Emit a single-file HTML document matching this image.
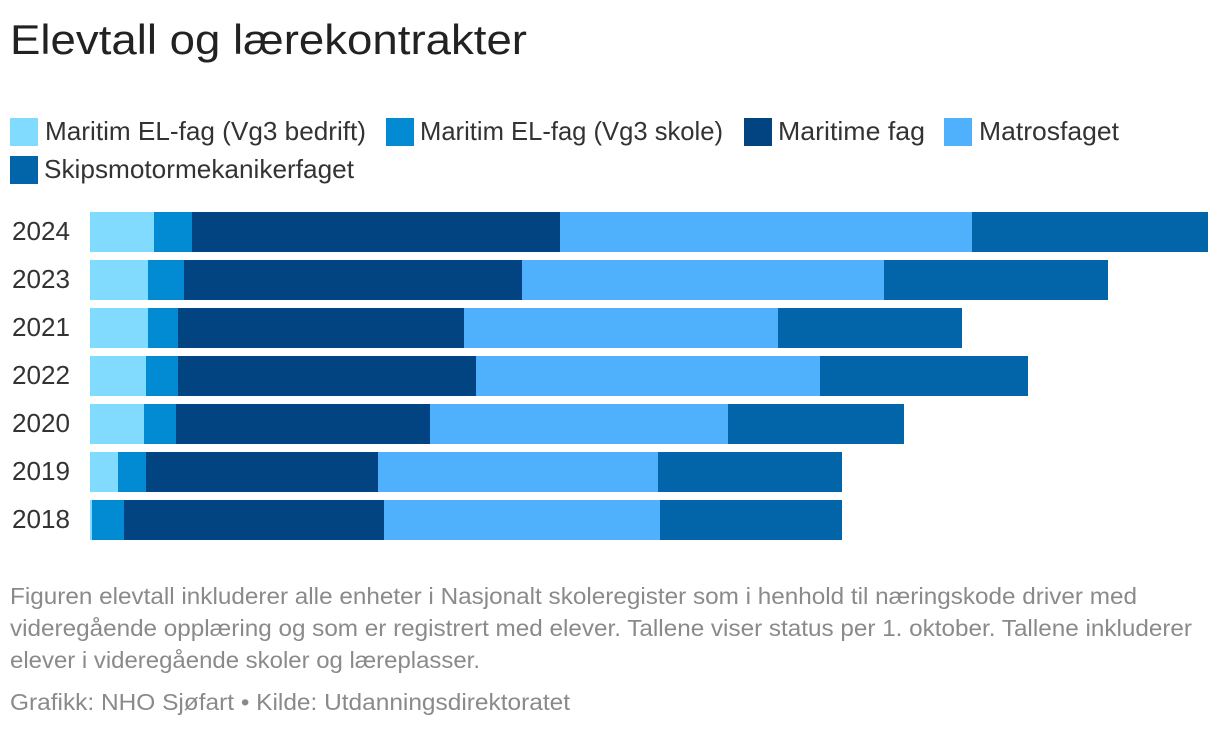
<!DOCTYPE html>
<html lang="no">
<head>
<meta charset="utf-8">
<title>Elevtall og lærekontrakter</title>
<style>
html,body{margin:0;padding:0;background:#fff;width:1220px;height:730px;overflow:hidden}
svg{display:block}
text{font-family:"Liberation Sans",sans-serif}
.title{font-size:42px;fill:#222}
.leg{font-size:26px;fill:#333}
.cat{font-size:26px;fill:#333}
.note{font-size:23.5px;fill:#8a8a8a}
</style>
</head>
<body>
<svg id="chart" width="1220" height="730" viewBox="0 0 1220 730" xmlns="http://www.w3.org/2000/svg">
  <text class="title" x="10" y="54" textLength="517" lengthAdjust="spacingAndGlyphs">Elevtall og lærekontrakter</text>

  <g>
    <g>
      <rect x="10" y="118" width="28" height="28" fill="#80dbff"/>
      <text class="leg" x="45" y="140" textLength="321" lengthAdjust="spacingAndGlyphs">Maritim EL-fag (Vg3 bedrift)</text>
    </g>
    <g>
      <rect x="386" y="118" width="28" height="28" fill="#028bd2"/>
      <text class="leg" x="420" y="140" textLength="303" lengthAdjust="spacingAndGlyphs">Maritim EL-fag (Vg3 skole)</text>
    </g>
    <g>
      <rect x="744" y="118" width="28" height="28" fill="#014481"/>
      <text class="leg" x="778" y="140" textLength="147" lengthAdjust="spacingAndGlyphs">Maritime fag</text>
    </g>
    <g>
      <rect x="944" y="118" width="28" height="28" fill="#4fb1fb"/>
      <text class="leg" x="979" y="140" textLength="140" lengthAdjust="spacingAndGlyphs">Matrosfaget</text>
    </g>
    <g>
      <rect x="10" y="156" width="28" height="28" fill="#0265a9"/>
      <text class="leg" x="44" y="178" textLength="310" lengthAdjust="spacingAndGlyphs">Skipsmotormekanikerfaget</text>
    </g>
  </g>

  <g id="plot"></g>

  <g>
    <text class="note" x="10" y="604" textLength="1127" lengthAdjust="spacingAndGlyphs">Figuren elevtall inkluderer alle enheter i Nasjonalt skoleregister som i henhold til næringskode driver med</text>
    <text class="note" x="10" y="636" textLength="1182" lengthAdjust="spacingAndGlyphs">videregående opplæring og som er registrert med elever. Tallene viser status per 1. oktober. Tallene inkluderer</text>
    <text class="note" x="10" y="668" textLength="470" lengthAdjust="spacingAndGlyphs">elever i videregående skoler og læreplasser.</text>
  </g>
  <text class="note" x="10" y="710" textLength="560" lengthAdjust="spacingAndGlyphs">Grafikk: NHO Sjøfart • Kilde: Utdanningsdirektoratet</text>
</svg>

<script>
const categories = ["2024", "2023", "2021", "2022", "2020", "2019", "2018"];
const seriesNames = ["maritim-el-bedrift", "maritim-el-skole", "maritime-fag", "matrosfaget", "skipsmotormekanikerfaget"];
const seriesColors = ["#80dbff", "#028bd2", "#014481", "#4fb1fb", "#0265a9"];
const maritimElBedrift = [32, 29, 29, 28, 27, 14, 1];
const maritimElSkole = [19, 18, 15, 16, 16, 14, 16];
const maritimeFag = [184, 169, 143, 149, 127, 116, 130];
const matrosfaget = [206, 181, 157, 172, 149, 140, 138];
const skipsmotormekanikerfaget = [118, 112, 92, 104, 88, 92, 91];
const seriesValues = [maritimElBedrift, maritimElSkole, maritimeFag, matrosfaget, skipsmotormekanikerfaget];

const SVG_NS = "http://www.w3.org/2000/svg";
const plot = document.getElementById("plot");
const xScale = function (v) { return 90 + v * 2; };
const yScale = function (i) { return 212 + i * 48; };
const barHeight = 40;

categories.forEach(function (cat, i) {
  const label = document.createElementNS(SVG_NS, "text");
  label.setAttribute("class", "cat");
  label.setAttribute("x", 12);
  label.setAttribute("y", yScale(i) + 28);
  label.setAttribute("textLength", 58);
  label.setAttribute("lengthAdjust", "spacingAndGlyphs");
  
  
  label.textContent = cat;
  plot.appendChild(label);

  let cumulative = 0;
  seriesValues.forEach(function (values, s) {
    const start = cumulative;
    cumulative += values[i];
    const bar = document.createElementNS(SVG_NS, "rect");
    bar.setAttribute("x", xScale(start));
    bar.setAttribute("y", yScale(i));
    bar.setAttribute("width", xScale(cumulative) - xScale(start));
    bar.setAttribute("height", barHeight);
    bar.setAttribute("fill", seriesColors[s]);
    
    
    bar.setAttribute("data-series", seriesNames[s]);
    bar.setAttribute("data-category", cat);
    plot.appendChild(bar);
  });
});
</script>
</body>
</html>
